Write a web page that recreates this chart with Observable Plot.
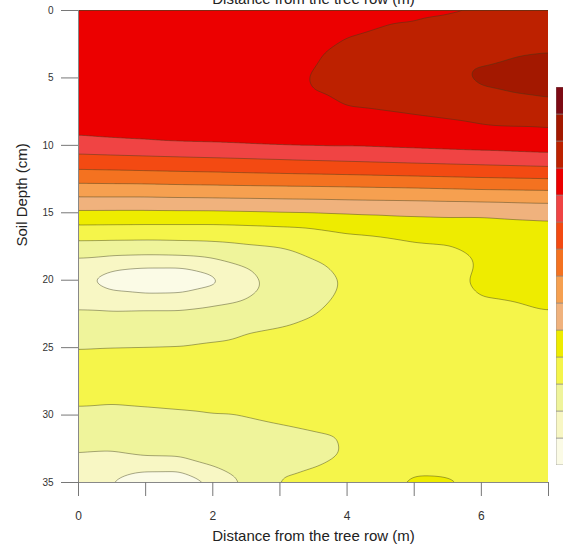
<!DOCTYPE html>
<html><head><meta charset="utf-8">
<script src="https://cdn.jsdelivr.net/npm/d3@7"></script>
<script src="https://cdn.jsdelivr.net/npm/@observablehq/plot@0.6"></script>
<style>
html,body{margin:0;padding:0;background:#fff;width:563px;height:553px;overflow:hidden;}
#wrap{position:relative;width:563px;height:553px;overflow:hidden;}
#main{position:absolute;left:0;top:0;}
#key{position:absolute;left:556px;top:87px;width:30px;height:378px;}
#key svg{max-width:none !important;}
</style></head><body><div id="wrap"><div id="main"></div><div id="key"></div></div>
<script>
// Distance from the tree row (m) of each sampled column
const distance = [0, 0.5, 1, 1.5, 2, 2.5, 3, 3.5, 4, 4.5, 5, 5.5, 6, 6.5, 7];
// Soil depth (cm) of each sampled row
const depth = [0, 2.5, 5, 7.5, 9, 10.5, 12, 13.5, 15, 16, 17, 18, 19, 20, 21, 22, 23, 24, 25, 27, 29, 31, 33, 34, 35];
// Values (level units), one list per distance, top to bottom
const valueByDistance = [
  [10.7, 10.7, 10.65, 10.5, 10.2, 9.14, 7.81, 6.32, 4.82, 3.91, 3.04, 2.3, 1.5, 1.1, 1.4, 1.95, 2.3, 2.65, 2.97, 3.5, 3.1, 2.55, 1.95, 1.55, 1.2],
  [10.7, 10.7, 10.7, 10.55, 10.32, 9.21, 7.85, 6.33, 4.81, 3.89, 3.02, 2.23, 1.1, 0.7, 1.05, 1.9, 2.3, 2.65, 3.01, 3.5, 3.05, 2.55, 1.9, 1.3, 0.95],
  [10.7, 10.75, 10.75, 10.6, 10.42, 9.27, 7.9, 6.33, 4.81, 3.87, 3.01, 2.17, 0.98, 0.4, 0.95, 1.95, 2.3, 2.65, 3.03, 3.5, 3.1, 2.6, 2.15, 1.05, 0.55],
  [10.75, 10.8, 10.8, 10.7, 10.56, 9.33, 7.95, 6.38, 4.83, 3.86, 3.04, 2.24, 0.95, 0.45, 0.98, 1.95, 2.3, 2.7, 3.05, 3.45, 3.15, 2.65, 2.2, 1.0, 0.6],
  [10.7, 10.75, 10.8, 10.75, 10.6, 9.39, 7.99, 6.41, 4.84, 3.85, 3.08, 2.36, 1.4, 0.7, 1.35, 2.1, 2.45, 2.8, 3.15, 3.4, 3.2, 2.75, 2.35, 1.95, 0.98],
  [10.75, 10.8, 10.85, 10.8, 10.7, 9.45, 8.05, 6.44, 4.89, 3.9, 3.21, 2.59, 1.98, 1.75, 1.8, 2.3, 2.75, 3.02, 3.2, 3.4, 3.2, 2.85, 2.45, 2.25, 2.15],
  [10.8, 10.85, 10.9, 10.88, 10.8, 9.52, 8.1, 6.47, 4.95, 3.97, 3.34, 2.75, 2.45, 2.3, 2.4, 2.65, 2.9, 3.1, 3.25, 3.4, 3.25, 2.95, 2.75, 2.85, 3.1],
  [10.8, 10.9, 11.02, 10.97, 10.8, 9.6, 8.15, 6.49, 4.99, 4.04, 3.61, 3.17, 2.8, 2.65, 2.7, 2.85, 3.08, 3.2, 3.3, 3.4, 3.3, 3.02, 2.8, 3.02, 3.2],
  [10.8, 11.05, 11.25, 10.95, 10.75, 9.67, 8.2, 6.53, 5.05, 4.24, 3.8, 3.5, 3.25, 3.1, 3.15, 3.3, 3.4, 3.45, 3.5, 3.5, 3.4, 3.08, 3.05, 3.25, 3.4],
  [10.85, 11.15, 11.35, 10.98, 10.75, 9.74, 8.26, 6.57, 5.08, 4.44, 3.85, 3.6, 3.45, 3.35, 3.4, 3.45, 3.5, 3.5, 3.5, 3.5, 3.45, 3.35, 3.4, 3.55, 3.75],
  [10.88, 11.25, 11.45, 11.03, 10.8, 9.81, 8.32, 6.61, 5.1, 4.63, 4.05, 3.7, 3.55, 3.5, 3.5, 3.55, 3.55, 3.55, 3.55, 3.6, 3.6, 3.6, 3.65, 3.8, 4.2],
  [10.93, 11.4, 11.6, 11.08, 10.85, 9.88, 8.38, 6.67, 5.14, 4.68, 4.1, 3.82, 3.72, 3.8, 3.75, 3.7, 3.65, 3.65, 3.65, 3.65, 3.65, 3.65, 3.7, 3.85, 4.1],
  [10.97, 11.5, 12.25, 11.2, 10.88, 9.95, 8.44, 6.74, 5.15, 4.65, 4.3, 4.08, 4.06, 4.14, 4.03, 3.9, 3.85, 3.8, 3.8, 3.8, 3.75, 3.75, 3.75, 3.75, 3.8],
  [11.1, 11.65, 12.55, 11.3, 10.9, 10.02, 8.5, 6.77, 5.23, 4.75, 4.45, 4.25, 4.2, 4.15, 4.07, 3.95, 3.88, 3.85, 3.85, 3.85, 3.8, 3.8, 3.8, 3.8, 3.85],
  [11.15, 11.75, 12.75, 11.45, 10.9, 10.1, 8.56, 6.8, 5.3, 4.8, 4.55, 4.4, 4.3, 4.25, 4.15, 4.03, 3.9, 3.85, 3.85, 3.85, 3.85, 3.85, 3.85, 3.85, 3.85]
];
// Contour levels (lower edge of each band) and their colours, low to high
const levels = [0, 1, 2, 3, 4, 5, 6, 7, 8, 9, 10, 11, 12, 13];
const levelColors = ["#fbfbe6", "#f8f7c4", "#eff49b", "#f5f54a", "#eeec00", "#f0b27d", "#f6a050", "#f47220", "#f34a12", "#f04444", "#ec0000", "#bd2100", "#a31800", "#7d0a14"];
const xTicks = [0, 1, 2, 3, 4, 5, 6, 7];
const yTicks = [0, 5, 10, 15, 20, 25, 30, 35];
const xTitle = "Distance from the tree row (m)";
const yTitle = "Soil Depth (cm)";

const points = [];
distance.forEach((x, i) => depth.forEach((d, j) => points.push({distance: x, depth: d, value: valueByDistance[i][j]})));

const colorScale = {type: "ordinal", domain: levels, range: levelColors};
const font = "'Liberation Sans', Arial, Helvetica, sans-serif";

const chart = Plot.plot({
  width: 563, height: 553,
  marginTop: 10, marginBottom: 71, marginLeft: 78, marginRight: 15,
  style: {fontFamily: font, background: "white", overflow: "hidden"},
  x: {domain: [0, 7]},
  y: {domain: [0, 35], reverse: true},
  color: colorScale,
  marks: [
    Plot.contour(points, {
      x: "distance", y: "depth", value: "value", fill: "value",
      thresholds: levels, interpolate: "barycentric", pixelSize: 1, blur: 5,
      stroke: "#3a3a1a", strokeOpacity: 0.55, strokeWidth: 0.8, clip: "frame"
    }),
    Plot.ruleY([35], {stroke: "#888", strokeWidth: 1}),
    Plot.ruleX([0], {stroke: "#888", strokeWidth: 1}),
    Plot.axisX({ticks: xTicks, tickFormat: d => d % 2 === 0 ? String(d) : "", tickSize: 14, tickPadding: 15, fontSize: 12, stroke: "#777", fill: "#333", label: null}),
    Plot.axisY({ticks: yTicks, tickSize: 17, tickPadding: 8, fontSize: 10, stroke: "#777", fill: "#333", label: null}),
    Plot.text([xTitle], {text: d => d, frameAnchor: "bottom", dy: 58, fontSize: 15, fill: "#222"}),
    Plot.text([yTitle], {text: d => d, frameAnchor: "left", dx: -56, rotate: -90, fontSize: 15, fill: "#222"}),
    Plot.text([xTitle], {text: d => d, frameAnchor: "top", dy: -7, lineAnchor: "bottom", fontSize: 15, fill: "#222"})
  ]
});
document.getElementById("main").append(chart);

const key = Plot.plot({
  width: 30, height: 378, margin: 0,
  style: {background: "white", maxWidth: "none"},
  x: {domain: [0, 1], axis: null},
  y: {domain: [0, 14], axis: null},
  color: colorScale,
  marks: [
    Plot.rect(levels, {x1: 0, x2: 1, y1: d => d, y2: d => d + 1, fill: d => d, stroke: "#888", strokeWidth: 0.6})
  ]
});
document.getElementById("key").append(key);
</script></body></html>
